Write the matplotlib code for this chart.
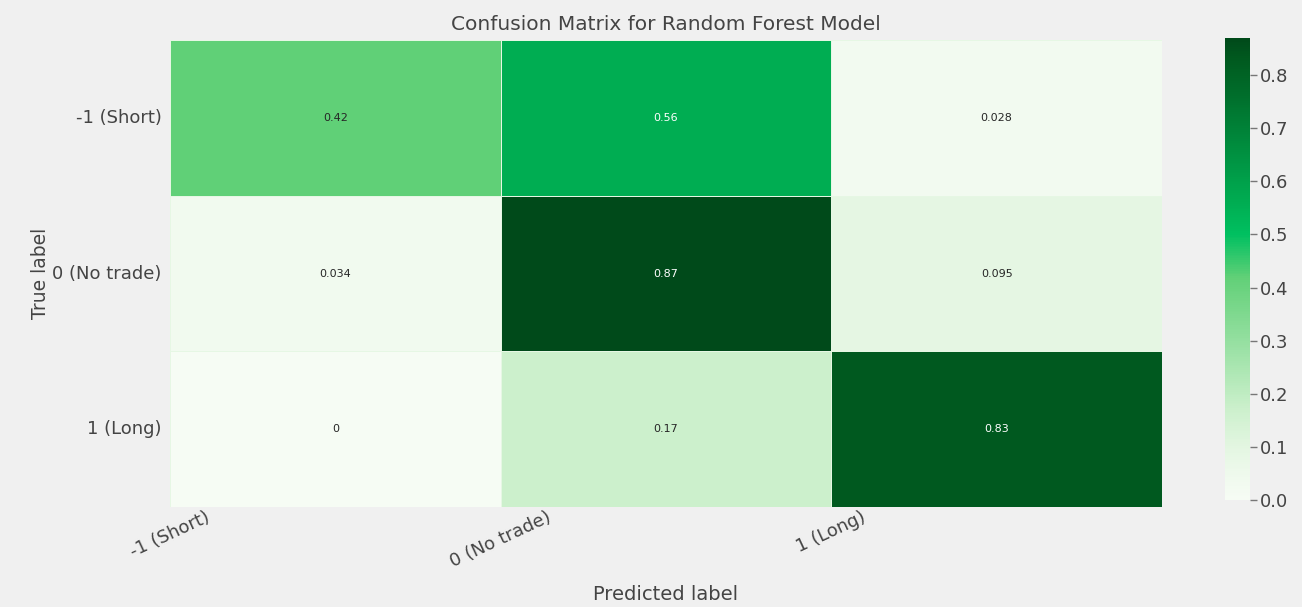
import numpy as np
import matplotlib
matplotlib.use("Agg")
import matplotlib.pyplot as plt
from matplotlib.colors import LinearSegmentedColormap
import seaborn as sns

plt.style.use("fivethirtyeight")

classes = ["-1 (Short)", "0 (No trade)", "1 (Long)"]
row_short = [0.42, 0.56, 0.028]
row_no_trade = [0.034, 0.87, 0.095]
row_long = [0.0, 0.17, 0.83]
cbar_ticks = [0.0, 0.1, 0.2, 0.3, 0.4, 0.5, 0.6, 0.7, 0.8]

cm = np.array([row_short, row_no_trade, row_long])
vmax = 0.87

# vivid green ramp
greens = LinearSegmentedColormap.from_list(
    "vivid_greens",
    [(0.0, "#f6fcf4"), (0.04, "#f1faef"), (0.11, "#e4f6e2"), (0.195, "#ccf0cc"),
     (0.48, "#62d078"), (0.575, "#00c060"), (0.644, "#00ad52"),
     (0.954, "#005a1f"), (1.0, "#004a1a")])

fig = plt.figure(figsize=(13.02, 6.07), dpi=100, facecolor="#f0f0f0")
ax = fig.add_axes([170 / 1302, 1 - 507 / 607, (1162 - 170) / 1302, (507 - 40) / 607])
cax = fig.add_axes([1225 / 1302, 1 - 500 / 607, 25 / 1302, (500 - 38) / 607])

sns.heatmap(cm, annot=True, cmap=greens, linewidths=0.5, linecolor="#e6f7e4",
            annot_kws={"size": 8}, ax=ax, cbar_ax=cax, vmin=0, vmax=vmax)

ax.set_title("Confusion Matrix for Random Forest Model", fontsize=14.5, color="#444444", pad=7)
ax.set_xticks(np.arange(len(classes)))
ax.set_xticklabels(classes, rotation=25, ha="center", fontsize=13, color="#444444")
ax.set_yticks(np.arange(len(classes)) + 0.5)
ax.set_yticklabels(classes, rotation=0, fontsize=13, color="#444444")
ax.tick_params(axis="x", length=0, pad=1)
ax.tick_params(axis="y", length=0, pad=6)
ax.set_xlabel("Predicted label", fontsize=14, color="#444444", labelpad=10)
ax.set_ylabel("True label", fontsize=13.5, color="#444444", labelpad=2)

cax.set_yticks(cbar_ticks)
cax.set_yticklabels([f"{t:.1f}" for t in cbar_ticks], fontsize=13, color="#444444")
cax.tick_params(axis="y", length=5, width=1, color="#777777", pad=2)

fig.savefig("out.png", dpi=100, facecolor="#f0f0f0")
